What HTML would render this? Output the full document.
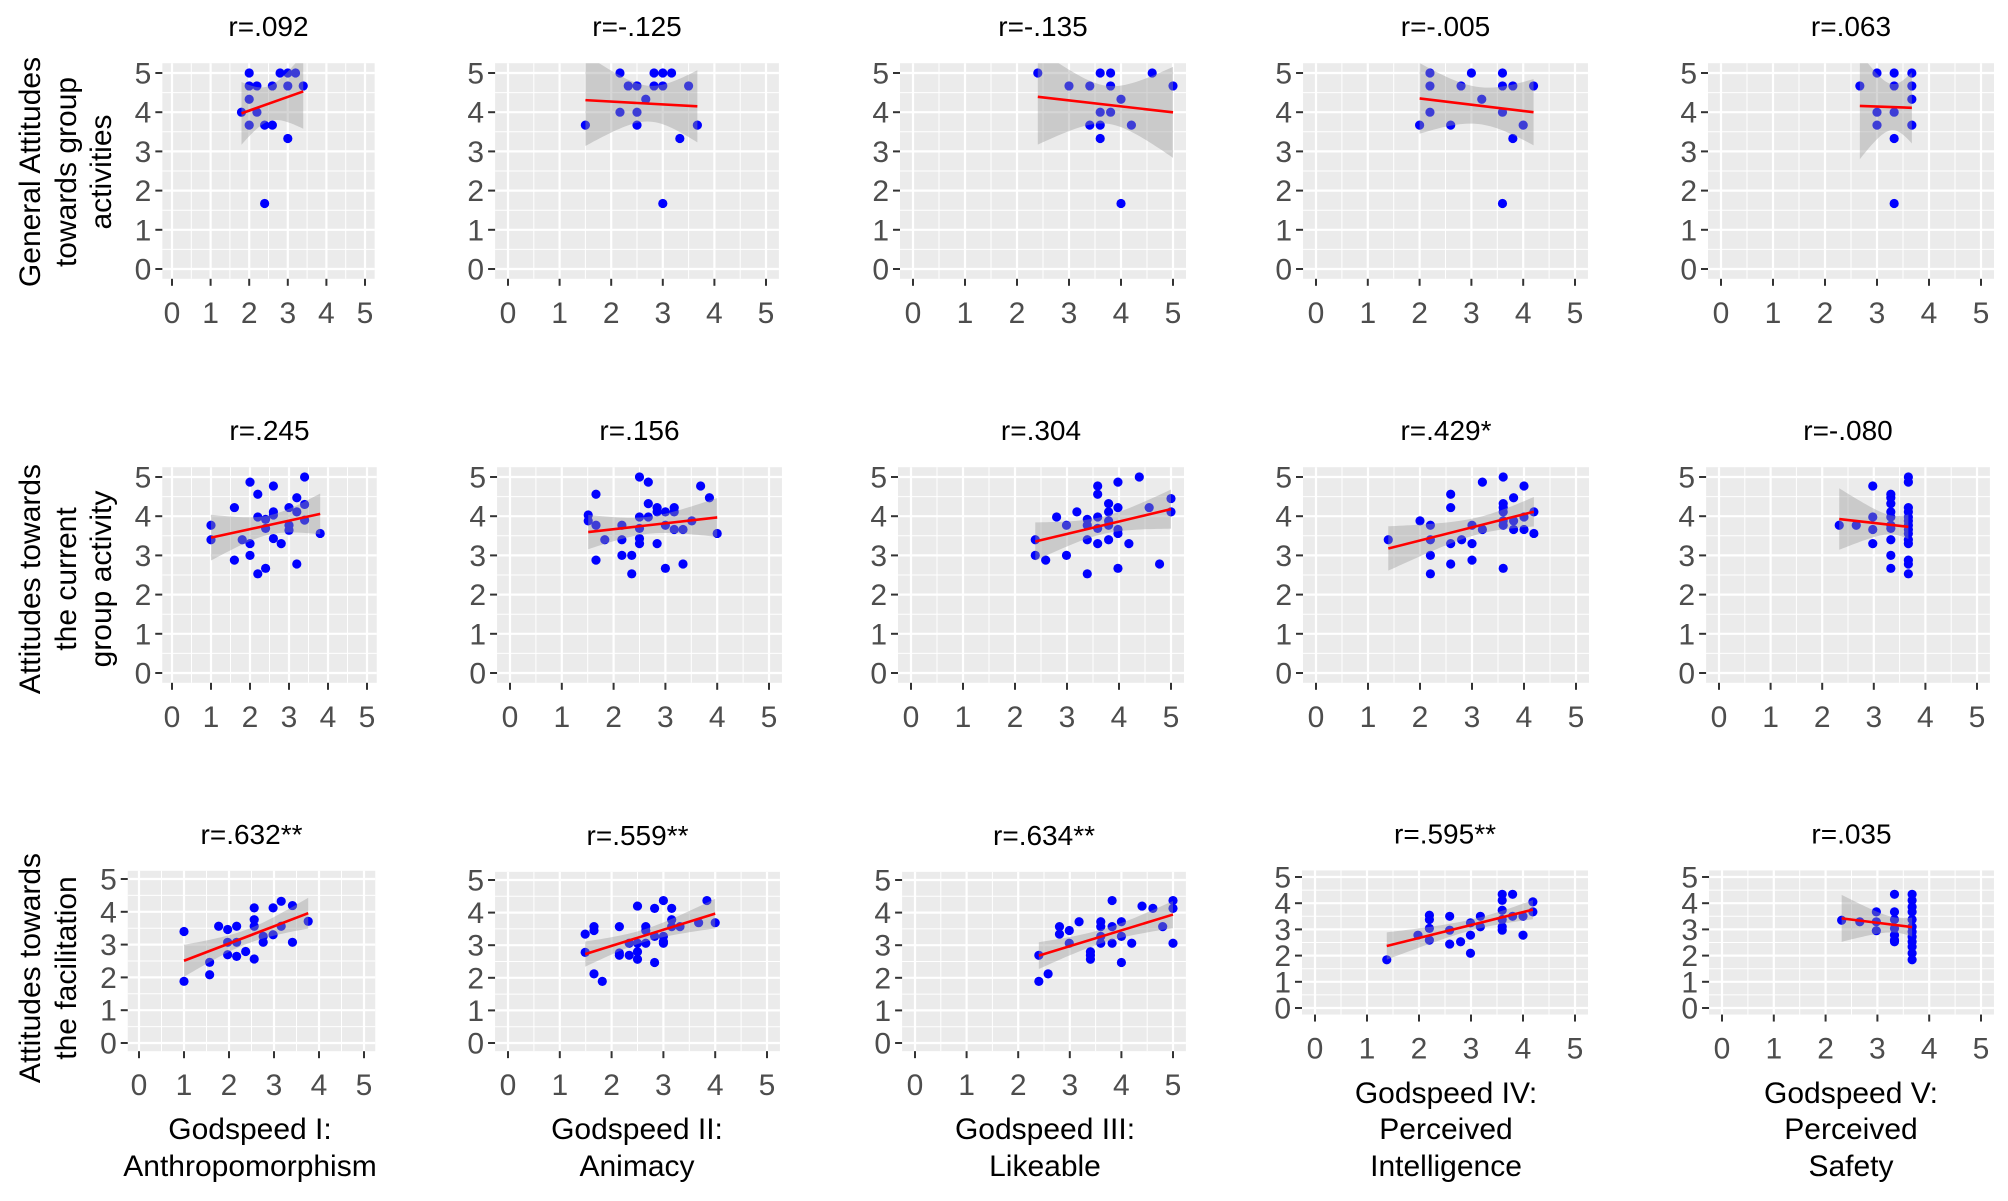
<!DOCTYPE html>
<html><head><meta charset="utf-8"><style>
html,body{margin:0;padding:0;background:#fff;}
svg{display:block;font-family:"Liberation Sans",Arial,sans-serif;}
</style></head><body>
<svg id="fig" width="2008" height="1201" viewBox="0 0 2008 1201" xmlns="http://www.w3.org/2000/svg">
<g transform="translate(0,172) rotate(-90)" font-size="30" text-anchor="middle" fill="#000">
<text x="0" y="40">General Attitudes</text><text x="0" y="76">towards group</text><text x="0" y="111">activities</text></g>
<g transform="translate(0,579) rotate(-90)" font-size="30" text-anchor="middle" fill="#000">
<text x="0" y="40">Attitudes towards</text><text x="0" y="76">the current</text><text x="0" y="111">group activity</text></g>
<g transform="translate(0,968) rotate(-90)" font-size="30" text-anchor="middle" fill="#000">
<text x="0" y="40">Attitudes towards</text><text x="0" y="76">the facilitation</text></g>
<g font-size="30" text-anchor="middle"><text x="250" y="1139">Godspeed I:</text><text x="250" y="1176">Anthropomorphism</text></g>
<g font-size="30" text-anchor="middle"><text x="637" y="1139">Godspeed II:</text><text x="637" y="1176">Animacy</text></g>
<g font-size="30" text-anchor="middle"><text x="1045" y="1139">Godspeed III:</text><text x="1045" y="1176">Likeable</text></g>
<g font-size="30" text-anchor="middle"><text x="1446" y="1103">Godspeed IV:</text><text x="1446" y="1139">Perceived</text><text x="1446" y="1176">Intelligence</text></g>
<g font-size="30" text-anchor="middle"><text x="1851" y="1103">Godspeed V:</text><text x="1851" y="1139">Perceived</text><text x="1851" y="1176">Safety</text></g>
</svg>
<script>
// ---- data ----
const titles = ["r=.092","r=-.125","r=-.135","r=-.005","r=.063","r=.245","r=.156","r=.304","r=.429*","r=-.080","r=.632**","r=.559**","r=.634**","r=.595**","r=.035"];
const xTicks = [0,1,2,3,4,5];
const yTicks = [0,1,2,3,4,5];

const r1c1_x = [2.0,2.8,3.0,3.2,2.0,2.2,2.6,3.0,3.4,2.0,1.8,2.2,2.0,2.4,2.6,3.0,2.4];
const r1c1_y = [5,5,5,5,4.67,4.67,4.67,4.67,4.67,4.33,4,4,3.67,3.67,3.67,3.33,1.67];
const r1c2_x = [1.5,2.17,2.17,2.33,2.5,2.67,2.5,2.5,2.83,3.0,3.17,2.83,3.0,3.5,3.33,3.67,3.0];
const r1c2_y = [3.67,5,4,4.67,4.67,4.33,4,3.67,5,5,5,4.67,4.67,4.67,3.33,3.67,1.67];
const r1c3_x = [2.4,3.0,3.4,3.6,3.8,3.8,3.6,3.8,4.0,3.4,3.6,4.2,3.6,4.6,5.0,4.0];
const r1c3_y = [5,4.67,4.67,5,5,4.67,4,4,4.33,3.67,3.67,3.67,3.33,5,4.67,1.67];
const r1c4_x = [2.0,2.2,2.2,2.2,2.6,2.8,3.0,3.2,3.6,3.6,3.8,3.6,4.0,3.8,4.2,3.6];
const r1c4_y = [3.67,5,4.67,4,3.67,4.67,5,4.33,5,4.67,4.67,4,3.67,3.33,4.67,1.67];
const r1c5_x = [2.67,3,3,3,3.33,3.33,3.33,3.33,3.67,3.67,3.67,3.67,3.33];
const r1c5_y = [4.67,5,4,3.67,5,4.67,4,3.33,5,4.67,4.33,3.67,1.67];

const r2c1_x = [1.0,1.0,1.6,1.6,1.8,2.0,2.0,2.0,2.2,2.2,2.2,2.4,2.4,2.4,2.6,2.6,2.6,2.6,2.8,3.0,3.0,3.0,3.2,3.2,3.2,3.4,3.4,3.4,3.8];
const r2c1_y = [3.77,3.4,4.22,2.88,3.4,4.87,3.3,3.0,4.56,3.98,2.53,3.92,3.69,2.67,4.77,4.11,4.03,3.43,3.3,4.22,3.77,3.64,4.47,4.11,2.78,5.0,4.3,3.9,3.56];
const r2c2_x = [1.51,1.51,1.66,1.66,1.66,1.83,2.16,2.16,2.16,2.35,2.35,2.5,2.5,2.5,2.5,2.5,2.67,2.67,2.67,2.84,2.84,2.84,3.0,3.0,3.0,3.17,3.17,3.17,3.34,3.34,3.51,3.68,3.85,4.0];
const r2c2_y = [4.03,3.88,4.56,3.77,2.88,3.4,3.77,3.4,3.0,3.0,2.53,5.0,3.98,3.69,3.43,3.3,4.87,4.32,3.98,4.22,4.11,3.3,4.11,3.77,2.67,4.22,4.11,3.66,3.66,2.78,3.88,4.77,4.47,3.56];
const r2c3_x = [2.39,2.39,2.59,2.8,2.99,2.99,3.19,3.39,3.39,3.39,3.39,3.59,3.59,3.59,3.59,3.59,3.8,3.8,3.8,3.8,3.8,3.98,3.98,3.98,3.98,3.98,4.19,4.39,4.58,4.78,5.0,5.0];
const r2c3_y = [3.4,3.0,2.88,3.98,3.77,3.0,4.11,3.92,3.77,3.4,2.53,4.77,4.56,3.98,3.69,3.3,4.32,4.11,3.88,3.77,3.4,4.87,4.22,3.66,3.56,2.67,3.3,5.0,4.22,2.78,4.45,4.11];
const r2c4_x = [1.39,2.0,2.2,2.2,2.2,2.2,2.59,2.59,2.59,2.59,2.8,3.0,3.0,3.0,3.2,3.2,3.6,3.6,3.6,3.6,3.6,3.6,3.6,3.8,3.8,3.8,4.0,4.0,4.0,4.19,4.19];
const r2c4_y = [3.4,3.88,3.77,3.4,3.0,2.53,4.56,4.22,3.3,2.78,3.4,3.77,3.3,2.88,4.87,3.66,5.0,4.32,4.22,4.11,3.88,3.77,2.67,4.47,3.88,3.66,4.77,3.98,3.66,4.11,3.56];
const r2c5_x = [2.33,2.66,2.98,2.98,2.98,2.98,3.33,3.33,3.33,3.33,3.33,3.33,3.33,3.33,3.33,3.33,3.67,3.67,3.67,3.67,3.67,3.67,3.67,3.67,3.67,3.67,3.67,3.67,3.67,3.67];
const r2c5_y = [3.77,3.77,4.77,3.98,3.66,3.3,4.56,4.47,4.32,4.11,3.98,3.77,3.69,3.4,3.0,2.67,5.0,4.87,4.22,4.11,3.98,3.88,3.77,3.66,3.56,3.4,3.3,2.88,2.78,2.53];

const r3c1_x = [1.0,1.0,1.57,1.57,1.77,1.97,1.97,1.97,2.17,2.17,2.17,2.37,2.56,2.56,2.56,2.56,2.76,2.76,2.98,2.98,3.16,3.16,3.41,3.41,3.76];
const r3c1_y = [3.4,1.88,2.46,2.08,3.56,3.46,3.07,2.69,3.56,3.07,2.64,2.79,4.12,3.76,3.56,2.56,3.25,3.07,4.12,3.3,4.32,3.56,4.19,3.07,3.71];
const r3c2_x = [1.49,1.49,1.66,1.66,1.66,1.82,2.15,2.15,2.15,2.34,2.34,2.5,2.5,2.5,2.5,2.66,2.66,2.66,2.83,2.83,2.83,3.0,3.0,3.0,3.0,3.16,3.16,3.16,3.32,3.68,3.84,4.0];
const r3c2_y = [3.34,2.78,3.57,3.45,2.12,1.89,3.57,2.76,2.69,2.69,3.06,4.2,3.06,2.8,2.57,3.57,3.45,3.06,4.13,3.27,2.47,4.37,3.27,3.11,3.06,4.13,3.78,3.57,3.57,3.69,4.37,3.69];
const r3c3_x = [2.4,2.4,2.58,2.8,2.8,2.99,2.99,3.18,3.4,3.4,3.4,3.6,3.6,3.6,3.6,3.82,3.82,3.82,4.0,4.0,4.0,4.2,4.4,4.61,4.8,5.0,5.0,5.0];
const r3c3_y = [2.69,1.89,2.12,3.57,3.34,3.45,3.06,3.72,2.8,2.69,2.57,3.72,3.57,3.27,3.06,4.37,3.57,3.06,3.72,3.27,2.47,3.06,4.2,4.13,3.57,4.37,4.13,3.06];
const r3c4_x = [1.38,1.98,2.2,2.2,2.2,2.2,2.59,2.59,2.59,2.8,2.99,2.99,2.99,3.18,3.18,3.6,3.6,3.6,3.6,3.6,3.6,3.8,3.8,4.0,4.0,4.19,4.19];
const r3c4_y = [1.84,2.78,3.54,3.38,3.04,2.59,3.5,2.97,2.44,2.53,3.25,2.78,2.09,3.5,3.1,4.34,4.11,3.73,3.38,3.1,2.97,4.34,3.5,3.5,2.78,4.05,3.67];
const r3c5_x = [2.31,2.66,2.98,2.98,2.98,3.33,3.33,3.33,3.33,3.33,3.33,3.33,3.67,3.67,3.67,3.67,3.67,3.67,3.67,3.67,3.67,3.67,3.67,3.67];
const r3c5_y = [3.35,3.29,3.67,3.29,2.95,4.34,3.67,3.38,3.04,2.78,2.59,2.53,4.34,4.11,3.86,3.67,3.38,3.1,2.91,2.72,2.53,2.34,2.09,1.84];

const seriesX = [r1c1_x,r1c2_x,r1c3_x,r1c4_x,r1c5_x,r2c1_x,r2c2_x,r2c3_x,r2c4_x,r2c5_x,r3c1_x,r3c2_x,r3c3_x,r3c4_x,r3c5_x];
const seriesY = [r1c1_y,r1c2_y,r1c3_y,r1c4_y,r1c5_y,r2c1_y,r2c2_y,r2c3_y,r2c4_y,r2c5_y,r3c1_y,r3c2_y,r3c3_y,r3c4_y,r3c5_y];

// ---- layout (pixel geometry) ----
const layout = [
 [172,365,73,269],[508,766,73,269],[913,1173,73,269],[1316,1575,73,269],[1721,1981,73,269],
 [172,367,477,673],[510,769,477,673],[911,1171,477,673],[1316,1576,477,673],[1719,1977,477,673],
 [139,364,879,1043],[508,767,880,1043],[915,1173,880,1043],[1315,1575,877,1008],[1722,1981,877,1008]
];
const NS = "http://www.w3.org/2000/svg";
const svg = document.getElementById('fig');
function mk(tag, attrs, parent){ const e=document.createElementNS(NS,tag); for(const k in attrs) e.setAttribute(k,attrs[k]); (parent||svg).appendChild(e); return e; }

layout.forEach((L,i)=>{
  const [x0p,x5p,y5p,y0p]=L;
  const sx = v => x0p + (x5p-x0p)*v/5;
  const sy = v => y0p - (y0p-y5p)*v/5;
  const g = mk('g',{});
  
  
  const L0=sx(-0.25), R0=sx(5.25), T0=sy(5.25), B0=sy(-0.25);
  const bg = mk('rect',{x:L0,y:T0,width:R0-L0,height:B0-T0,fill:'#ebebeb'},g);
  
  
  const cp = mk('clipPath',{id:'cp'+i},g); mk('rect',{x:L0,y:T0,width:R0-L0,height:B0-T0},cp);
  // minor grid
  for(let k=0;k<5;k++){ const v=k+0.5;
    mk('line',{x1:sx(v),x2:sx(v),y1:T0,y2:B0,stroke:'#fff','stroke-width':1},g);
    mk('line',{x1:L0,x2:R0,y1:sy(v),y2:sy(v),stroke:'#fff','stroke-width':1},g); }
  xTicks.forEach(v=>{ mk('line',{x1:sx(v),x2:sx(v),y1:T0,y2:B0,stroke:'#fff','stroke-width':2.2},g);
    mk('line',{x1:sx(v),x2:sx(v),y1:B0,y2:B0+7,stroke:'#333','stroke-width':2},g);
    const t=mk('text',{x:sx(v),y:B0+44,'font-size':30,'text-anchor':'middle',fill:'#4d4d4d'},g); t.textContent=v;
    
     });
  yTicks.forEach(v=>{ mk('line',{x1:L0,x2:R0,y1:sy(v),y2:sy(v),stroke:'#fff','stroke-width':2.2},g);
    mk('line',{x1:L0-7,x2:L0,y1:sy(v),y2:sy(v),stroke:'#333','stroke-width':2},g);
    const t=mk('text',{x:L0-11,y:sy(v)+10.5,'font-size':30,'text-anchor':'end',fill:'#4d4d4d'},g); t.textContent=v;
    
     });
  const tt = mk('text',{x:(L0+R0)/2,y:T0-27,'font-size':28,'text-anchor':'middle',fill:'#000'},g);
  tt.textContent = titles[i];
  
  
  const X=seriesX[i], Y=seriesY[i];
  const dg = mk('g',{'clip-path':'url(#cp'+i+')'},g);
  X.forEach((xv,j)=>{ const c=mk('circle',{cx:sx(xv),cy:sy(Y[j]),r:4.6,fill:'#0000ff'},dg);
    
     });
  // linear regression + 95% CI
  const n=X.length; const mx=X.reduce((a,b)=>a+b,0)/n, my=Y.reduce((a,b)=>a+b,0)/n;
  let sxx=0,sxy=0; X.forEach((xv,j)=>{sxx+=(xv-mx)**2; sxy+=(xv-mx)*(Y[j]-my);});
  const b=sxy/sxx, a=my-b*mx; let sse=0; X.forEach((xv,j)=>{sse+=(Y[j]-a-b*xv)**2;});
  const s=Math.sqrt(sse/(n-2)), tq=1.96+2.5/(n-2);
  const xmin=Math.min(...X), xmax=Math.max(...X); const up=[],lo=[];
  for(let k=0;k<=40;k++){ const xv=xmin+(xmax-xmin)*k/40; const yh=a+b*xv;
    const se=s*Math.sqrt(1/n+(xv-mx)**2/sxx);
    up.push(sx(xv)+','+sy(yh+tq*se)); lo.unshift(sx(xv)+','+sy(yh-tq*se)); }
  const band=mk('polygon',{points:up.concat(lo).join(' '),fill:'#999999','fill-opacity':0.4},dg);
  
  
  const ln=mk('line',{x1:sx(xmin),y1:sy(a+b*xmin),x2:sx(xmax),y2:sy(a+b*xmax),stroke:'#ff0000','stroke-width':2.6},dg);
  
  
});
</script>
</body></html>
